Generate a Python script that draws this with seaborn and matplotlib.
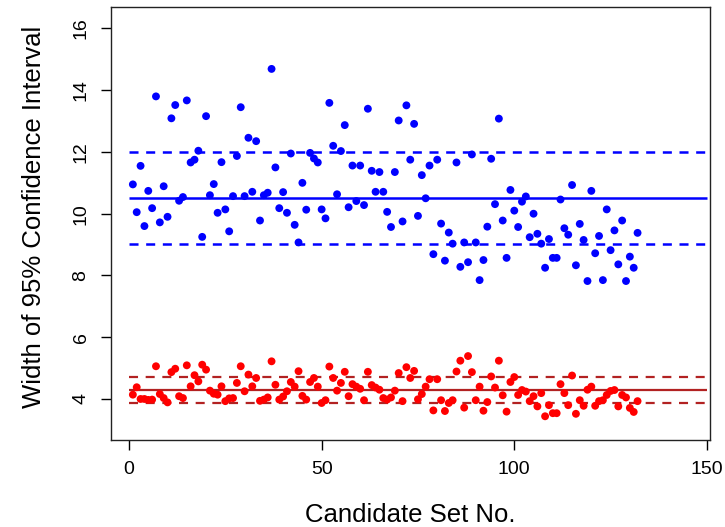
import numpy as np
import pandas as pd
import matplotlib
matplotlib.use("Agg")
import matplotlib.pyplot as plt
import seaborn as sns

# ---------------- DATA ----------------
set_no = list(range(1, 133))

width_blue = [
    10.95, 10.05, 11.55, 9.60, 10.74, 10.18, 13.80, 9.72, 10.89, 9.90,
    13.09, 13.52, 10.42, 10.54, 13.67, 11.66, 11.75, 12.04, 9.25, 13.16,
    10.60, 10.96, 10.03, 11.67, 10.14, 9.43, 10.57, 11.87, 13.45, 10.57,
    12.46, 10.71, 12.35, 9.78, 10.60, 10.68, 14.69, 11.50, 10.18, 10.70,
    10.03, 11.95, 9.64, 9.07, 11.00, 10.13, 11.97, 11.79, 11.66, 10.14,
    9.85, 13.59, 12.20, 10.63, 12.03, 12.87, 10.21, 11.56, 10.41, 11.56,
    10.28, 13.40, 11.39, 10.71, 11.35, 10.71, 10.06, 9.57, 11.35, 13.02,
    9.75, 13.51, 11.75, 12.91, 9.93, 11.25, 10.50, 11.56, 8.69, 11.75,
    9.68, 8.48, 9.39, 9.03, 11.66, 8.28, 9.07, 8.43, 11.92, 9.07,
    7.85, 8.50, 9.58, 11.78, 10.31, 13.08, 9.78, 8.57, 10.77, 10.10,
    9.57, 10.39, 10.56, 9.24, 10.00, 9.35, 9.03, 8.25, 9.18, 8.57,
    8.57, 10.46, 9.53, 9.32, 10.93, 8.33, 9.67, 9.15, 7.82, 10.74,
    8.72, 9.28, 7.85, 10.14, 8.82, 9.46, 8.36, 9.78, 7.82, 8.61,
    8.25, 9.38,
]

width_red = [
    4.14, 4.38, 4.00, 4.00, 3.97, 3.98, 5.06, 4.16, 4.03, 3.89,
    4.87, 4.98, 4.09, 4.03, 5.09, 4.41, 4.77, 4.57, 5.11, 4.95,
    4.27, 4.17, 4.14, 4.41, 3.93, 4.02, 4.03, 4.52, 5.06, 4.25,
    4.79, 4.41, 4.68, 3.94, 3.98, 4.05, 5.22, 4.46, 3.98, 4.08,
    4.25, 4.55, 4.40, 4.90, 4.10, 3.98, 4.55, 4.68, 4.40, 3.87,
    3.96, 5.05, 4.68, 4.27, 4.52, 4.88, 4.09, 4.48, 4.40, 4.33,
    3.96, 4.88, 4.45, 4.37, 4.30, 4.03, 3.98, 4.05, 4.27, 4.84,
    3.93, 5.03, 4.68, 4.91, 3.99, 4.16, 4.40, 4.64, 3.63, 4.64,
    3.96, 3.61, 3.87, 3.96, 4.89, 5.24, 3.72, 5.39, 4.87, 3.96,
    4.40, 3.62, 3.90, 4.73, 4.37, 5.24, 4.12, 3.59, 4.55, 4.71,
    4.13, 4.29, 4.24, 3.93, 4.09, 3.76, 4.19, 3.44, 3.80, 3.54,
    3.54, 4.48, 4.19, 3.80, 4.76, 3.52, 3.96, 3.78, 4.30, 4.40,
    3.78, 3.93, 3.96, 4.13, 4.26, 4.29, 3.76, 4.13, 4.05, 3.71,
    3.58, 3.93,
]

# mean and band lines (solid, upper dashed, lower dashed)
blue_lines = [10.52, 12.00, 9.03]
red_lines = [4.29, 4.72, 3.87]

x_ticks = [0, 50, 100, 150]
y_ticks = [4, 6, 8, 10, 12, 14, 16]

df = pd.DataFrame({
    "set": set_no + set_no,
    "width": width_blue + width_red,
    "group": ["blue"] * len(width_blue) + ["red"] * len(width_red),
})

# ---------------- STYLE ----------------
sns.set_theme(style="ticks")
plt.rcParams["font.family"] = ["Liberation Sans", "DejaVu Sans"]
plt.rcParams["lines.scale_dashes"] = False
plt.rcParams["text.color"] = "black"
plt.rcParams["axes.labelcolor"] = "black"
plt.rcParams["xtick.color"] = "black"
plt.rcParams["ytick.color"] = "black"

fig = plt.figure(figsize=(7.25, 5.27), dpi=100)
ax = fig.add_axes([0.1527, 0.165, 0.8266, 0.822])

sns.scatterplot(
    data=df, x="set", y="width", hue="group",
    palette={"blue": "#0000FF", "red": "#FF0000"},
    s=32, linewidth=0, legend=False, ax=ax, zorder=3,
)

dash = (0, (6.5, 5.5))
ax.hlines(blue_lines[0], 0, 150, color="#0000FF", lw=1.8, zorder=2)
ax.hlines(blue_lines[1:], 0, 150, color="#0000FF", lw=1.8, linestyles=[dash], zorder=2)
ax.hlines(red_lines[0], 0, 150, color="#B22222", lw=1.6, zorder=2)
ax.hlines(red_lines[1:], 0, 150, color="#B22222", lw=1.6, linestyles=[dash], zorder=2)

ax.set_xlim(-4.75, 150.8)
ax.set_ylim(2.67, 16.7)
ax.set_xticks(x_ticks)
ax.set_xticklabels([str(t) for t in x_ticks])
ax.set_yticks(y_ticks)
ax.set_yticklabels([str(t) for t in y_ticks], rotation=90, va="center")

ax.tick_params(axis="both", direction="out", length=7.2, width=1.0,
               colors="black", labelsize=14)
ax.tick_params(axis="x", pad=8)
ax.tick_params(axis="y", pad=8)

for sp in ax.spines.values():
    sp.set_visible(True)
    sp.set_color("#222222")
    sp.set_linewidth(1.0)

ax.set_xlabel("Candidate Set No.", fontsize=18.5, color="black")
ax.set_ylabel("Width of 95% Confidence Interval", fontsize=18.5, color="black")
ax.xaxis.label.set_va("center")
ax.yaxis.label.set_va("center")
ax.xaxis.set_label_coords(0.5, -0.173)
ax.yaxis.set_label_coords(-0.128, 0.515)

plt.savefig("out.png", dpi=100)
plt.close()
